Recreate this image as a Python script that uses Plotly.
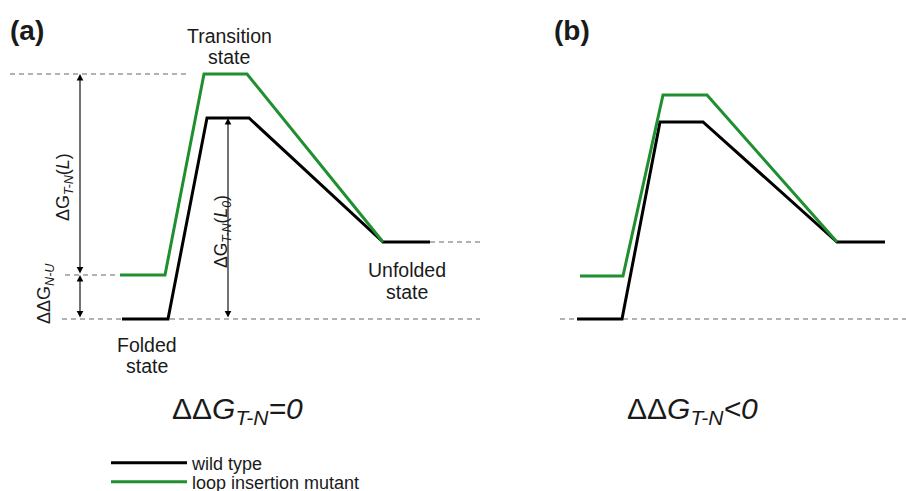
import plotly.graph_objects as go

# ---- data: reaction coordinate (arbitrary units) and free energy (arbitrary units) ----
a_wt_rc = [122, 168, 207, 249, 383, 430]
a_wt_E = [0, 0, 201, 201, 77, 77]
a_mut_rc = [120, 165, 204, 247, 383]
a_mut_E = [44, 44, 245, 245, 77]

b_wt_rc = [577, 622, 660, 703, 837, 885]
b_wt_E = [0, 0, 197, 197, 77, 77]
b_mut_rc = [580, 623, 663, 707, 837]
b_mut_E = [43, 43, 224, 224, 77]

series_names = ["wild type", "loop insertion mutant"]

BLACK = "#000000"
GREEN = "#1f8f2f"
FONT = "Liberation Sans, Arial, sans-serif"

fig = go.Figure()
fig.add_trace(go.Scatter(x=a_wt_rc, y=a_wt_E, mode="lines", name=series_names[0],
                         line=dict(color=BLACK, width=3), legend="legend"))
fig.add_trace(go.Scatter(x=a_mut_rc, y=a_mut_E, mode="lines", name=series_names[1],
                         line=dict(color=GREEN, width=3), legend="legend2"))
fig.add_trace(go.Scatter(x=b_wt_rc, y=b_wt_E, mode="lines", showlegend=False,
                         line=dict(color=BLACK, width=3)))
fig.add_trace(go.Scatter(x=b_mut_rc, y=b_mut_E, mode="lines", showlegend=False,
                         line=dict(color=GREEN, width=3)))

dash = dict(color="#666666", width=1, dash="5px,4px")
shapes = [
    dict(type="line", x0=10, x1=190, y0=a_mut_E[2], y1=a_mut_E[2], line=dash, layer="below"),
    dict(type="line", x0=65, x1=118, y0=a_mut_E[0], y1=a_mut_E[0], line=dash, layer="below"),
    dict(type="line", x0=62, x1=480, y0=a_wt_E[0], y1=a_wt_E[0], line=dash, layer="below"),
    dict(type="line", x0=a_wt_rc[-1], x1=480, y0=a_wt_E[-1], y1=a_wt_E[-1], line=dash, layer="below"),
    dict(type="line", x0=560, x1=906, y0=b_wt_E[0], y1=b_wt_E[0], line=dash, layer="below"),
]

def arrow(x, y_top, y_bot):
    return dict(x=x, y=y_top, ax=x, ay=y_bot, xref="x", yref="y", axref="x", ayref="y",
                text="", showarrow=True, arrowhead=2, arrowside="end+start",
                arrowsize=1.2, arrowwidth=1.1, arrowcolor="#000000")

txt = dict(color="#1a1a1a", family=FONT)
ann = [
    arrow(80, a_mut_E[2], a_mut_E[0]),
    arrow(80, a_mut_E[0], a_wt_E[0]),
    arrow(228, a_wt_E[2], a_wt_E[0]),
    dict(x=27, y=289, text="<b>(a)</b>", font=dict(size=28, **txt)),
    dict(x=572, y=289, text="<b>(b)</b>", font=dict(size=28, **txt)),
    dict(x=229, y=283, text="Transition", font=dict(size=19.5, **txt)),
    dict(x=229, y=262, text="state", font=dict(size=19.5, **txt)),
    dict(x=407, y=49, text="Unfolded", font=dict(size=19.5, **txt)),
    dict(x=407, y=27, text="state", font=dict(size=19.5, **txt)),
    dict(x=147, y=-26, text="Folded", font=dict(size=19.5, **txt)),
    dict(x=147, y=-47, text="state", font=dict(size=19.5, **txt)),
    dict(x=64, y=132, text="ΔG<sub><i>T-N</i></sub>(<i>L</i>)", textangle=-90,
         font=dict(size=18, **txt)),
    dict(x=222, y=87, text="ΔG<sub><i>T-N</i></sub>(<i>L<sub>0</sub></i>)", textangle=-90,
         font=dict(size=17.5, **txt)),
    dict(x=45, y=25, text="ΔΔG<sub><i>N-U</i></sub>", textangle=-90,
         font=dict(size=18, **txt)),
    dict(x=237, y=-91, text="ΔΔ<i>G<sub>T-N</sub>=0</i>", font=dict(size=30, **txt)),
    dict(x=692, y=-91, text="ΔΔ<i>G<sub>T-N</sub>&lt;0</i>", font=dict(size=30, **txt)),
]
for a in ann:
    a.setdefault("xref", "x")
    a.setdefault("yref", "y")
    a.setdefault("showarrow", False)

leg_common = dict(xanchor="left", yanchor="middle", font=dict(size=18, **txt),
                  itemwidth=76, bgcolor="rgba(0,0,0,0)", borderwidth=0)

fig.update_layout(
    width=906, height=491,
    margin=dict(l=0, r=0, t=0, b=0, autoexpand=False),
    paper_bgcolor="white", plot_bgcolor="white",
    xaxis=dict(range=[0, 906], visible=False, fixedrange=True),
    yaxis=dict(range=[-172, 319], visible=False, fixedrange=True),
    shapes=shapes,
    annotations=ann,
    showlegend=True,
    legend=dict(x=106 / 906, y=1 - 463 / 491, **leg_common),
    legend2=dict(x=106 / 906, y=1 - 482 / 491, **leg_common),
)

fig.write_html("out.html", config={"displayModeBar": False},
               post_script="document.body.style.margin='0px';")
